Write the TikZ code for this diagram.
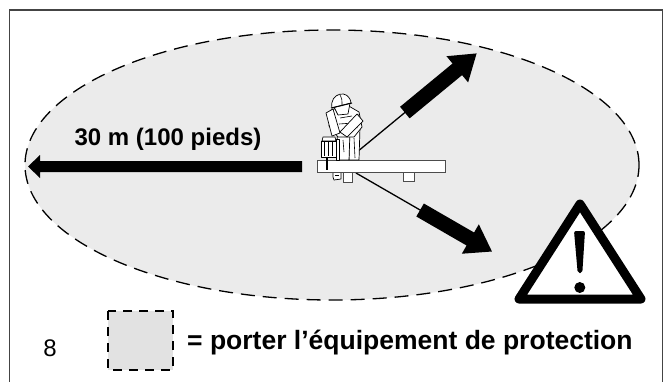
\documentclass[tikz,border=0pt]{standalone}
\usepackage{fontspec}
\setmainfont{Liberation Sans}
\definecolor{zonegray}{HTML}{EBEBEB}
\definecolor{framegray}{HTML}{444444}
\begin{document}
\begin{tikzpicture}[x=1pt,y=-1pt,
  zone/.style={fill=zonegray, draw=black, dash pattern=on 14pt off 8pt, line width=1.3pt},
  outline/.style={draw=black, fill=white, line width=0.7pt, line join=round},
  boardpart/.style={draw=black!70, fill=white, line width=0.8pt},
  thinlead/.style={draw=black, line width=1.3pt},
  bigtext/.style={font=\bfseries\fontsize{24}{28}\selectfont, inner sep=0pt},
  legendtext/.style={font=\bfseries\fontsize{26.5}{30}\selectfont, inner sep=0pt},
  plaintext/.style={font=\fontsize{24}{28}\selectfont, inner sep=0pt}]
\useasboundingbox (0,0) rectangle (671,381);

% outer frame, open at the bottom
\draw[framegray, line width=1.6pt] (9.5,400) -- (9.5,10) -- (662.5,10) -- (662.5,400);

% protective-equipment zone
\path[zone] (332,165) ellipse [x radius=307pt, y radius=135pt];

% distance label and arrow to the left
\node[bigtext] (dist) at (168,139) {30 m (100 pieds)};
\coordinate (leftstart) at (302,166.5);
\fill (302,161) -- (40,161) -- (40,155) -- (28,166.5) -- (40,178) -- (40,172) -- (302,172) -- cycle;

% diagonal arrows
\coordinate (upstart) at (357,152);
\coordinate (downstart) at (356,173);
\begin{scope}[shift={(upstart)}, rotate=39.5]
  \draw[thinlead] (0,0) -- (64,0);
  \fill (62,-7.5) -- (130,-7.5) -- (130,-17) -- (155,0) -- (130,17) -- (130,7.5) -- (62,7.5) -- cycle;
\end{scope}
\begin{scope}[shift={(downstart)}, rotate=-30]
  \draw[thinlead] (0,0) -- (76,0);
  \fill (74,-7.5) -- (132,-7.5) -- (132,-17) -- (157,0) -- (132,17) -- (132,7.5) -- (74,7.5) -- cycle;
\end{scope}

% work board with supports
\draw[boardpart] (403,172) rectangle (414,181);
\draw[boardpart] (343,172) rectangle (352,182);
\draw[outline] (333,172) -- (341,172) -- (341,179) -- (334,180) -- (333,177) -- cycle;
\draw[line width=0.6pt] (335,175) -- (339,175);
\draw[boardpart] (317,160) rectangle (445,172);

% worker: legs
\draw[outline] (349,128) -- (360,127) -- (359,160) -- (349,160) -- cycle;
\draw[outline] (337,130) -- (350,131) -- (349,160) -- (338,160) -- cycle;
\draw[line width=0.6pt] (354,138) -- (355,158);
\draw[line width=0.6pt] (343,140) -- (344,152);
% torso
\draw[outline] (331,110) -- (347,105) -- (359,112) -- (362,127) -- (354,137) -- (338,137) -- (329,126) -- cycle;
\draw[line width=0.6pt] (340,118) -- (352,116) (339,124) -- (353,123);
\draw[line width=0.6pt] (358,114) -- (357,128);
% arms
\draw[outline] (326,113) -- (333,109) -- (340,133) -- (332,136) -- cycle;
\draw[outline] (357,114) -- (363,121) -- (347,137) -- (340,132) -- cycle;
% head and helmet
\draw[outline] (334,107) -- (350,103) -- (348,114) -- (338,115) -- cycle;
\draw[outline] (332,108) .. controls (329,93) and (349,88) .. (351,103) -- cycle;
\draw[line width=0.6pt] (340,95) .. controls (342,99) .. (342,106);
\draw[line width=1pt] (331,108) -- (352,103);
% core drill
\draw[outline] (323,137) -- (335,137) -- (336,141) -- (322,141) -- cycle;
\draw[outline] (321,141) rectangle (336,157);
\draw[line width=0.6pt] (324,142) -- (324,156) (328,142) -- (328,156) (332,142) -- (332,156);
\draw[outline] (336,139) rectangle (339,160);
\draw[line width=1.6pt] (327,157) -- (327,170);

% warning sign
\draw[line width=9pt, line join=round, fill=white] (580,204) -- (641,299) -- (519,299) -- cycle;
\fill[rounded corners=2pt] (574,231) -- (585,231) -- (582.3,273) -- (577.7,273) -- cycle;
\fill (579.8,287.5) circle (5.5pt);

% legend
\path[zone, fill=zonegray!96!black, dash pattern=on 9pt off 7pt, line width=1.2pt] (108,311) rectangle (173,370);
\node[legendtext, anchor=west] (legend) at (187,343) {= porter l’équipement de protection};
\node[plaintext] (fignum) at (50,348.5) {8};
\end{tikzpicture}
\end{document}
